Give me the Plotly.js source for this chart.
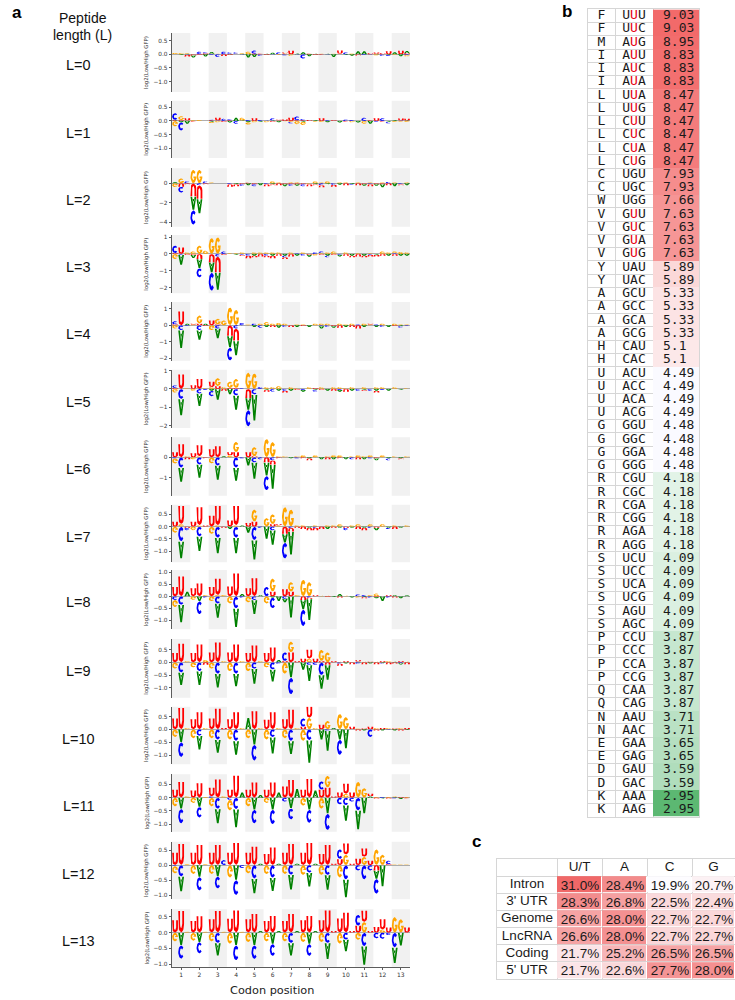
<!DOCTYPE html>
<html>
<head>
<meta charset="utf-8">
<script src="https://cdn.plot.ly/plotly-3.0.1.min.js"></script>
<style>html,body{margin:0;padding:0;background:#fff;}#chart{width:735px;height:1000px;}</style>
</head>
<body>
<div id="chart"></div>
<script>
// ================= DATA =================
const peptideLengths = [0,1,2,3,4,5,6,7,8,9,10,11,12,13];
const codonPositions = [1,2,3,4,5,6,7,8,9,10,11,12,13];
const nucleotides = ['A','C','G','U'];

// log2(Low/High GFP) letter heights, 39 nucleotide positions (13 codons x 3)
const L0_A = [0,-.03,.02,-.08,0,-.08,.07,0,0,.02,0,.02,-.12,-.1,0,.02,.06,0,0,0,.03,.08,-.07,.02,0,.02,-.1,0,-.03,-.05,.11,.11,0,.02,0,-.03,.08,-.07,.08];
const L0_C = [0,0,-.02,0,.1,.04,-.03,-.1,.1,.05,.05,-.02,0,.12,-.06,0,-.02,.07,-.04,0,-.02,-.16,0,0,0,-.02,0,0,.07,0,0,-.03,-.02,0,-.06,-.04,0,0,-.03];
const L0_G = [.05,.04,.03,0,0,0,.02,.02,0,0,.02,.03,.1,0,0,0,0,-.03,.03,-.06,0,0,0,0,.02,0,.02,.02,0,.03,0,0,0,-.04,0,0,-.03,0,-.05];
const L0_U = [0,0,-.06,-.04,-.03,.03,0,0,-.06,-.03,0,0,0,.02,.02,-.03,0,0,.04,.13,0,0,.02,-.03,-.02,0,0,.12,0,0,-.04,0,.04,.05,.04,.11,0,.13,.04];

const L1_A = [.02,-.05,-.1,0,0,0,-.03,0,0,-.06,.12,.02,-.05,0,-.03,0,.02,-.05,0,0,0,-.03,0,.03,0,-.05,0,-.06,0,0,-.06,0,-.1,0,0,-.03,.03,0,.02];
const L1_C = [.25,-.3,0,0,0,0,.03,.02,.08,.04,-.1,0,.04,0,.04,.02,.08,0,0,-.05,.15,.05,0,0,0,.03,0,0,.05,.04,0,.12,0,-.03,.1,-.06,0,.02,0];
const L1_G = [-.2,.15,.02,.03,.04,.02,-.05,-.05,0,0,0,.1,-.08,-.05,0,-.05,0,.02,-.02,-.04,-.12,-.12,0,-.03,-.04,0,0,.02,0,-.05,.02,-.1,0,0,0,0,-.04,-.03,-.04];
const L1_U = [.02,.03,.08,-.02,0,0,.02,.1,-.03,.02,0,0,0,.1,0,0,-.03,.03,.06,.12,.02,.02,.04,0,.1,0,.03,0,-.02,0,0,0,.02,.1,-.02,0,0,.07,.06];

const L2_A = [.15,0,0,-1.4,-1.5,0,0,0,0,0,-.1,0,-.2,0,-.2,0,-.1,0,-.2,0,-.15,0,0,-.1,0,-.1,0,-.15,0,-.1,0,-.15,0,-.15,-.3,0,-.3,0,-.2];
const L2_C = [0,-.6,.2,-1.5,-.2,.2,0,0,0,-.1,0,-.15,0,-.2,0,-.1,0,0,0,-.15,0,-.2,0,0,-.2,0,-.15,0,0,-.1,0,0,-.1,0,0,.15,0,-.1,0];
const L2_G = [-.4,.5,0,1.4,1.4,0,.1,.05,0,.05,0,0,0,0,.05,0,.2,.1,0,.1,.1,0,-.1,.2,.1,.2,0,.1,.1,0,.1,0,.1,0,.1,0,.1,0,.1];
const L2_U = [0,-.35,-.1,-1.35,-1.4,-.1,0,0,0,-.25,-.2,-.1,.05,-.1,0,-.2,-.1,-.2,-.1,-.1,-.1,-.1,-.2,-.1,-.2,0,-.2,0,-.2,0,-.2,-.1,-.2,-.1,-.1,-.2,0,-.1,0];

const L3_A = [0,-.6,0,-.2,-.55,0,-.6,-1.05,0,0,-.05,0,0,-.1,0,0,-.1,0,-.1,0,-.1,0,-.12,0,0,-.1,0,-.1,0,-.1,0,-.1,0,-.05,0,-.1,0,-.1,-.1];
const L3_C = [.45,-.05,0,0,-.55,0,-1.1,-.15,.15,0,0,-.05,-.1,0,0,-.1,0,0,-.1,0,.05,-.1,0,.1,.1,-.1,0,-.05,0,0,0,0,-.05,0,0,0,.05,0,0];
const L3_G = [-.3,0,.1,.15,.5,.2,.95,1.0,0,.05,.05,.1,0,.1,.1,.1,.1,.1,0,.1,0,.1,0,-.1,.05,.1,.15,0,.1,0,.05,0,.05,0,.15,.1,.1,.12,.1];
const L3_U = [.05,.4,-.05,-.05,-.3,0,-.5,-.95,-.05,0,0,-.05,-.15,-.1,-.15,-.1,-.15,-.1,-.1,-.15,0,0,-.05,0,-.05,0,-.05,0,-.1,-.1,-.15,-.1,-.1,-.1,-.1,0,-.1,0,0];

const L4_A = [0,-1.1,.1,0,-.6,.1,0,-.6,0,-.7,-.9,0,0,-.1,0,-.1,0,-.15,0,0,-.1,0,-.1,0,-.15,0,-.1,0,-.1,0,0,-.1,0,-.1,0,-.1,0,-.05,0];
const L4_C = [.2,-.3,-.05,0,-.3,0,0,-.2,0,-.8,-.2,.15,0,.1,-.15,0,0,0,-.1,0,0,0,0,0,-.05,-.1,0,0,0,0,.05,0,0,.05,-.1,0,0,-.1,-.05];
const L4_G = [-.2,0,0,.05,.5,0,-.3,.35,.3,1.1,.95,0,.05,0,.1,.2,.1,.15,.1,0,.05,.05,0,.1,.1,.1,0,.1,.05,.1,0,.1,.05,0,.1,0,.1,.05,.05];
const L4_U = [.05,.85,0,.05,.1,-.05,.3,.05,0,-.65,-.75,0,0,0,0,0,-.1,0,0,-.1,0,-.05,0,0,0,0,-.05,-.15,0,-.1,-.2,0,.05,0,0,0,-.05,0,0];

const L5_A = [0,-.9,0,0,-.7,0,-.1,-.6,0,-.3,-.8,0,-.65,-1.45,0,-.05,0,-.1,0,-.1,0,-.1,0,-.05,0,-.1,0,-.1,0,-.1,0,-.05,0,-.1,0,-.1,0,-.05,0];
const L5_C = [.15,-.55,0,0,-.25,-.05,-.3,0,0,0,-.35,.05,-.9,-.3,.1,0,-.15,0,-.1,0,0,-.05,0,-.1,0,0,0,-.05,0,0,-.1,0,-.1,0,-.05,0,0,0,0];
const L5_G = [-.2,0,.05,-.1,0,.05,.1,.45,.1,.35,.5,0,.9,.85,0,.1,.1,.15,0,.1,.05,0,.1,0,.1,0,.1,.1,.05,.1,0,.1,0,.1,.1,0,.1,0,.05];
const L5_U = [.05,.8,0,.2,.55,0,.3,.15,-.1,.05,.05,0,-.5,0,0,-.1,0,0,-.1,0,-.05,0,0,.05,-.05,0,-.1,0,-.15,0,0,-.05,0,-.1,0,0,0,0,0];

const L6_A = [0,-.7,0,0,-.65,0,0,-.7,.05,0,-.65,0,-.4,-.8,0,-.65,-1.2,0,0,-.05,0,0,-.05,0,-.1,0,-.1,0,-.1,0,0,-.1,0,-.1,0,-.05,0,-.05,0];
const L6_C = [-.05,-.5,0,0,-.35,0,0,-.4,0,0,-.5,-.05,0,-.25,-.1,-.7,-.15,0,0,0,-.05,0,0,0,0,0,0,0,0,-.1,0,0,-.05,0,0,-.1,0,0,0];
const L6_G = [-.25,0,.05,-.1,.05,0,-.3,0,0,.1,.5,0,0,.45,0,.9,.75,.05,.05,0,.05,.1,0,.1,0,.05,.1,.1,0,.05,.1,.05,.1,0,.1,0,.05,0,.05];
const L6_U = [.25,.65,-.1,.2,.55,-.05,.4,.55,0,.15,.25,0,.25,.05,0,-.25,-.2,-.05,0,0,0,-.05,-.1,0,0,-.1,0,-.05,0,0,-.1,0,0,-.05,0,0,0,-.05,0];

const L7_A = [0,-.7,0,0,-.6,0,0,-.65,0,-.1,-.65,.05,-.25,-.8,0,-.5,-.6,0,-.35,-.95,0,0,-.05,0,0,-.1,0,-.05,0,-.05,0,-.05,0,-.1,0,-.05,0,-.05,0];
const L7_C = [0,-.6,-.1,0,-.4,0,0,-.45,0,0,-.45,0,0,-.55,-.05,0,-.15,0,-.65,-.05,0,0,0,-.05,0,0,0,0,-.1,0,0,0,-.05,0,0,-.05,0,0,0];
const L7_G = [-.25,.1,0,-.15,.05,0,-.3,.05,0,0,.05,0,0,.5,0,.35,.4,.05,.8,.7,.05,.05,0,.05,0,.05,.05,.1,0,.05,.1,0,.1,0,.1,0,.05,0,.05];
const L7_U = [.2,.75,-.05,.2,.75,.05,.45,.8,-.05,.25,.8,0,.15,.2,0,0,.1,.05,-.3,-.15,-.05,-.1,-.1,-.1,-.1,0,-.05,0,-.05,0,-.1,-.1,0,-.05,0,0,-.1,0,0];

const L8_A = [0,-.75,.2,0,-.2,0,0,-.6,0,0,-.8,.1,0,-.6,.05,0,-.05,-.2,-.15,-.9,0,-.4,-.9,0,0,0,-.03,.1,0,-.05,0,-.03,0,-.05,-.2,0,.05,-.08,.05];
const L8_C = [-.15,-.35,0,0,-.55,-.05,0,-.3,0,0,-.5,-.05,0,-.15,0,.4,-.45,0,-.1,0,0,-.7,-.05,0,0,0,0,0,0,0,.08,.05,-.05,0,0,-.05,0,0,0];
const L8_G = [-.3,0,0,-.15,0,.05,-.2,.05,.05,-.3,0,0,-.25,0,0,-.3,.55,0,0,.4,.05,.7,.6,0,.03,.03,0,0,.03,0,-.05,0,.05,.12,0,0,0,0,0];
const L8_U = [.4,.85,0,.35,.55,0,.4,.7,0,.42,.97,0,.35,.77,0,0,.2,0,.3,.2,0,-.15,-.05,.05,0,-.03,0,-.05,0,0,0,-.05,0,-.03,0,.05,-.05,0,0];

const L9_A = [0,-.5,0,0,-.55,0,0,-.55,0,0,-.5,0,0,-.6,0,0,-.48,.1,0,-.6,0,-.3,-.65,0,-.55,-.6,0,0,-.05,0,.03,0,-.05,0,-.03,0,.03,-.05,0];
const L9_C = [0,-.4,0,0,-.35,0,0,-.45,0,0,-.45,0,0,-.25,0,0,-.28,-.05,.35,-.66,0,0,-.1,-.1,-.5,0,0,-.05,0,0,-.05,0,0,0,-.03,0,0,-.03,0];
const L9_G = [-.25,0,.05,-.2,0,.1,-.25,0,.05,-.35,0,.05,-.35,0,.05,-.2,0,0,-.45,.42,0,0,.15,0,.45,.4,0,.03,0,0,0,.03,0,.03,0,.05,0,0,.03];
const L9_U = [.38,.75,0,.38,.72,-.1,.4,.8,0,.4,.72,0,.38,.68,0,.38,.6,0,.05,.4,.05,.15,.35,.15,.05,-.1,.05,-.08,.05,-.08,.05,-.08,.03,-.08,.05,-.08,-.05,.05,-.08];

const L10_A = [0,-.5,0,0,-.55,0,0,-.52,0,0,-.55,0,.45,-.6,0,0,-.65,0,0,-.52,0,0,-.9,0,-.4,-.8,.05,-.4,-.75,0,0,-.05,0,0,-.05,0,-.05,0,-.03];
const L10_C = [0,-.58,0,0,-.25,0,0,-.4,0,0,-.45,0,0,-.62,0,0,-.3,0,0,-.45,0,.33,-.42,0,0,-.05,0,-.6,0,0,0,0,-.3,0,0,-.03,0,0,0];
const L10_G = [-.3,0,.05,-.35,0,.05,-.35,0,0,-.4,0,.05,-.35,0,.05,-.4,0,.05,-.35,0,.05,-.45,.45,.05,0,.33,0,.6,.48,0,.03,0,0,.05,0,.05,0,.05,0];
const L10_U = [.43,.85,0,.4,.68,0,.43,.82,.05,.4,.68,0,0,.72,0,.38,.68,0,.4,.78,0,.1,.45,0,.18,0,0,0,0,.1,-.05,.03,.1,-.05,.05,0,.03,-.05,.05];

const L11_A = [0,-.42,0,0,-.35,0,0,-.55,0,0,-.7,.2,0,-.45,.1,0,-.45,.2,0,-.4,.33,0,-.45,.28,0,-.6,0,0,-.6,0,-.72,-.6,.05,0,-.03,0,.02,-.05,0];
const L11_C = [0,-.55,0,0,-.4,0,.05,-.42,0,-.08,-.43,0,0,-.52,0,0,-.55,0,-.15,-.42,0,0,-.5,0,.32,-.62,0,-.25,-.28,-.15,-.48,0,0,0,.03,0,-.03,0,0];
const L11_G = [-.33,0,.05,-.2,0,.03,-.33,0,.05,-.4,0,0,-.33,0,0,-.2,0,0,0,0,0,-.3,0,0,-.42,.45,0,0,.15,0,.6,.36,0,.03,0,.03,.03,0,.03];
const L11_U = [.3,.6,0,.28,.55,0,.33,.7,0,.3,.84,0,.3,.58,0,.3,.58,0,.43,.68,0,.3,.72,0,.3,.38,.05,.2,.38,.2,0,0,.1,-.03,0,-.03,0,.03,-.02];

const L12_A = [0,-.5,0,0,-.4,0,0,-.38,0,0,-.5,0,0,-.5,.05,0,-.45,.05,0,-.5,.05,0,-.47,.05,0,-.5,0,0,-.6,0,0,0,0,-.28,-.72,0,0,0,0];
const L12_C = [-.03,-.38,0,0,-.45,0,0,-.4,.17,0,-.5,-.1,0,-.45,0,0,-.42,0,0,-.32,0,0,-.25,0,0,-.33,0,.33,-.48,0,-.18,-.48,-.18,-.5,0,.12,0,0,0];
const L12_G = [-.25,0,.03,-.3,0,.03,-.3,0,0,-.42,0,0,-.28,0,0,-.3,0,0,-.3,0,0,-.33,0,0,-.33,0,0,-.42,.35,0,0,.28,0,.53,.35,0,.02,.02,.02];
const L12_U = [.42,.72,0,.42,.68,0,.42,.68,0,.42,.75,0,.42,.62,0,.38,.6,0,.42,.72,0,.42,.75,0,.38,.68,.05,.2,.38,.05,.22,.28,.15,-.18,0,.03,0,0,0];

const L13_A = [0,-.4,0,0,-.3,0,0,-.4,0,0,-.4,0,0,-.4,.05,0,-.36,.05,0,-.4,.05,0,-.36,.05,0,-.52,0,0,-.38,0,0,-.6,0,0,0,0,-.5,-.42,0];
const L13_C = [0,-.43,0,0,-.36,0,0,-.33,0,0,-.48,0,0,-.44,0,0,-.38,0,0,-.33,0,0,-.38,0,0,-.33,0,0,-.22,0,.35,-.43,0,-.18,-.2,-.08,-.47,0,0];
const L13_G = [-.28,0,.03,-.26,0,.03,-.28,0,.03,-.35,0,.03,-.3,0,0,-.28,0,0,-.28,0,0,-.3,0,0,-.3,0,0,-.35,0,0,-.23,.34,0,0,.1,0,.5,.43,0];
const L13_U = [.4,.7,0,.38,.53,0,.43,.7,0,.45,.72,0,.43,.6,0,.38,.54,0,.38,.6,0,.4,.54,0,.4,.72,.05,.46,.64,.05,.22,.36,.05,.18,.33,.17,0,0,.17];

// Panel b: codon table
const aminoAcids = ['F','F','M','I','I','I','L','L','L','L','L','L','C','C','W','V','V','V','V','Y','Y','A','A','A','A','H','H','U','U','U','U','G','G','G','G','R','R','R','R','R','R','S','S','S','S','S','S','P','P','P','P','Q','Q','N','N','E','E','D','D','K','K'];
const codons = ['UUU','UUC','AUG','AUU','AUC','AUA','UUA','UUG','CUU','CUC','CUA','CUG','UGU','UGC','UGG','GUU','GUC','GUA','GUG','UAU','UAC','GCU','GCC','GCA','GCG','CAU','CAC','ACU','ACC','ACA','ACG','GGU','GGC','GGA','GGG','CGU','CGC','CGA','CGG','AGA','AGG','UCU','UCC','UCA','UCG','AGU','AGC','CCU','CCC','CCA','CCG','CAA','CAG','AAU','AAC','GAA','GAG','GAU','GAC','AAA','AAG'];
const codonScores = [9.03,9.03,8.95,8.83,8.83,8.83,8.47,8.47,8.47,8.47,8.47,8.47,7.93,7.93,7.66,7.63,7.63,7.63,7.63,5.89,5.89,5.33,5.33,5.33,5.33,5.1,5.1,4.49,4.49,4.49,4.49,4.48,4.48,4.48,4.48,4.18,4.18,4.18,4.18,4.18,4.18,4.09,4.09,4.09,4.09,4.09,4.09,3.87,3.87,3.87,3.87,3.87,3.87,3.71,3.71,3.65,3.65,3.59,3.59,2.95,2.95];

// Panel c: nucleotide composition
const nucColumns = ['U/T','A','C','G'];
const regions = ['Intron',"3' UTR",'Genome','LncRNA','Coding',"5' UTR"];
const pctU = [31.0,28.3,26.6,26.6,21.7,21.7];
const pctA = [28.4,26.8,28.0,28.0,25.2,22.6];
const pctC = [19.9,22.5,22.7,22.7,26.5,27.7];
const pctG = [20.7,22.4,22.7,22.7,26.5,28.0];

// ================= BUILD =================
const logoData = [
  {A:L0_A,C:L0_C,G:L0_G,U:L0_U},{A:L1_A,C:L1_C,G:L1_G,U:L1_U},{A:L2_A,C:L2_C,G:L2_G,U:L2_U},
  {A:L3_A,C:L3_C,G:L3_G,U:L3_U},{A:L4_A,C:L4_C,G:L4_G,U:L4_U},{A:L5_A,C:L5_C,G:L5_G,U:L5_U},
  {A:L6_A,C:L6_C,G:L6_G,U:L6_U},{A:L7_A,C:L7_C,G:L7_G,U:L7_U},{A:L8_A,C:L8_C,G:L8_G,U:L8_U},
  {A:L9_A,C:L9_C,G:L9_G,U:L9_U},{A:L10_A,C:L10_C,G:L10_G,U:L10_U},{A:L11_A,C:L11_C,G:L11_G,U:L11_U},
  {A:L12_A,C:L12_C,G:L12_G,U:L12_U},{A:L13_A,C:L13_C,G:L13_G,U:L13_U}
];

// layout geometry (pixels)
const FW = 735, FH = 1000;
const px = v => v / FW, py = v => 1 - v / FH;
const panelBox = [[33,92],[100.7,158],[168.3,226.7],[235,293.3],[302,360.7],[369.7,428],[437.3,495.7],[504.7,562.3],[570,629.3],[639,697.7],[706.7,764.3],[774.3,831.7],[841.7,899.3],[909.3,966.7]];
const panelRange = [[-1.38,.78],[-1.35,.74],[-4.45,1.54],[-2.34,1.13],[-2.16,1.42],[-2.13,1.05],[-1.86,.97],[-1.45,.89],[-1.375,1.1],[-1.39,.92],[-1.36,.88],[-1.28,.88],[-1.14,.78],[-1.08,.74]];
const halfTicks = [.5,0,-.5,-1];
const panelTicks = [halfTicks,halfTicks,[0,-2,-4],[1,0,-1,-2],[1,0,-1,-2],[1,0,-1,-2],[0,-1],halfTicks,[1,.5,0,-.5,-1],halfTicks,halfTicks,halfTicks,halfTicks,halfTicks];
const panelFmt = ['.1f','.1f','d','d','d','d','d','.1f','.1f','.1f','.1f','.1f','.1f','.1f'];
const LOGO_X0 = 172, LOGO_X1 = 410;
const COLORS = {A:'#008000', C:'#0000ff', G:'#ffa500', U:'#ff0000'};
const LETTER_W = 0.95/3;

const DEG = Math.PI/180;
function arc(cx,cy,rx,ry,a0,a1,n){const p=[];for(let i=0;i<=n;i++){const a=(a0+(a1-a0)*i/n)*DEG;p.push([cx+rx*Math.cos(a),cy+ry*Math.sin(a)]);}return p;}
const GLYPH = {
  U: [[[0,1],...arc(.5,.36,.5,.36,180,360,14),[1,1],[.69,1],...arc(.5,.4,.19,.2,360,180,10),[.31,1]]],
  C: [[...arc(.5,.5,.5,.5,42,318,22),...arc(.5,.5,.21,.27,318,42,16)]],
  G: [[...arc(.5,.5,.5,.5,42,360,22),[.52,.5],[.52,.37],...arc(.5,.5,.21,.27,331,42,16)]],
  A: [[[0,0],[.35,1],[.65,1],[1,0],[.7,0],[.5,.64],[.3,0]],[[.3,.18],[.7,.18],[.65,.34],[.35,.34]]]
};

const data = [];
const shapes = [];
const annotations = [];
const layout = {
  width: FW, height: FH, margin:{l:0,r:0,t:0,b:0},
  paper_bgcolor:'#ffffff', plot_bgcolor:'rgba(0,0,0,0)', showlegend:false,
  font:{family:'Liberation Sans, Arial, sans-serif', color:'#222'},
  shapes, annotations
};

logoData.forEach((P, i) => {
  const n = i + 1;
  const xa = n === 1 ? 'x' : 'x' + n, ya = n === 1 ? 'y' : 'y' + n;
  const xs = {A:[],C:[],G:[],U:[]}, ys = {A:[],C:[],G:[],U:[]};
  const add = (nu, xc, base, h) => {
    GLYPH[nu].forEach(poly => {
      poly.forEach(([gx,gy]) => { xs[nu].push(xc + (gx - 0.5) * LETTER_W); ys[nu].push(base + (0.02 + 0.96 * gy) * h); });
      xs[nu].push(null); ys[nu].push(null);
    });
  };
  for (let k = 0; k < 39; k++) {
    const xc = Math.floor(k / 3) + 1 + ((k % 3) - 1) / 3;
    const items = nucleotides.map(nu => ({nu, v: P[nu][k]}));
    let b = 0;
    items.filter(d => d.v > 0).sort((a, c) => a.v - c.v).forEach(d => { add(d.nu, xc, b, d.v); b += d.v; });
    b = 0;
    items.filter(d => d.v < 0).sort((a, c) => c.v - a.v).forEach(d => { add(d.nu, xc, b, d.v); b += d.v; });
  }
  nucleotides.forEach(nu => data.push({
    type:'scatter', mode:'lines', x: xs[nu], y: ys[nu], xaxis: xa, yaxis: ya,
    fill:'toself', fillcolor: COLORS[nu], line:{width:0, color: COLORS[nu]},
    hoverinfo:'skip', showlegend:false
  }));
  const [top, bot] = panelBox[i];
  const last = i === logoData.length - 1;
  layout['xaxis' + (n === 1 ? '' : n)] = {
    domain:[px(LOGO_X0), px(LOGO_X1)], range:[0.5, 13.5], anchor: ya,
    showgrid:false, zeroline:false, showline:last, linecolor:'#333', linewidth:0.8,
    ticks: last ? 'outside' : '', ticklen:2.5, tickwidth:0.8, tickcolor:'#333',
    tickmode:'array', tickvals: codonPositions, showticklabels: last,
    tickfont:{family:'DejaVu Sans', size:6, color:'#333'}, fixedrange:true
  };
  layout['yaxis' + (n === 1 ? '' : n)] = {
    domain:[py(bot), py(top)], range: panelRange[i], anchor: xa,
    showgrid:false, zeroline:true, zerolinecolor:'#9a9a9a', zerolinewidth:0.8,
    showline:true, linecolor:'#333', linewidth:0.8,
    ticks:'outside', ticklen:2.5, tickwidth:0.8, tickcolor:'#333',
    tickmode:'array', tickvals: panelTicks[i], tickformat: panelFmt[i],
    tickfont:{family:'DejaVu Sans', size:5.8, color:'#333'}, fixedrange:true
  };
  codonPositions.filter(c => c % 2 === 1).forEach(c => shapes.push({
    type:'rect', xref: xa, yref: ya + ' domain', x0: c - 0.5, x1: c + 0.5, y0: 0, y1: 1,
    fillcolor:'#f1f1f1', line:{width:0}, layer:'below'
  }));
  annotations.push({
    xref:'paper', yref:'paper', x: px(146.5), y: py((top + bot) / 2), text:'log2(Low/High GFP)',
    textangle:-90, showarrow:false, xanchor:'center', yanchor:'middle',
    font:{family:'DejaVu Sans', size:5.4, color:'#333'}
  });
  annotations.push({
    xref:'paper', yref:'paper', x: px(78.5), y: py(top + 32), text:'L=' + peptideLengths[i],
    showarrow:false, xanchor:'center', yanchor:'middle',
    font:{family:'Liberation Sans, Arial, sans-serif', size:14.5, color:'#111'}
  });
});

// x-axis title
annotations.push({xref:'paper', yref:'paper', x:px(272), y:py(990.5), text:'Codon position', showarrow:false,
  xanchor:'center', yanchor:'middle', font:{family:'DejaVu Sans', size:11.3, color:'#222'}});
// left header
annotations.push({xref:'paper', yref:'paper', x:px(82.5), y:py(18), text:'Peptide', showarrow:false,
  xanchor:'center', yanchor:'middle', font:{family:'Liberation Sans, Arial, sans-serif', size:14, color:'#111'}});
annotations.push({xref:'paper', yref:'paper', x:px(82.5), y:py(35), text:'length (L)', showarrow:false,
  xanchor:'center', yanchor:'middle', font:{family:'Liberation Sans, Arial, sans-serif', size:14, color:'#111'}});
// panel letters
[['a',16.5,12.5],['b',567,11],['c',476.5,841]].forEach(([t,x,y]) => annotations.push({
  xref:'paper', yref:'paper', x:px(x), y:py(y), text:'<b>'+t+'</b>', showarrow:false,
  xanchor:'center', yanchor:'middle', font:{family:'Liberation Sans, Arial, sans-serif', size:17, color:'#000'}
}));

// ---------- Panel b table ----------
const B_X0 = 588, B_X1 = 699, B_Y0 = 9.4, B_Y1 = 816.5;
const bColEdges = [0, 27, 65, 111];
const nRows = codonScores.length;
const rowEdges = Array.from({length: nRows + 1}, (_, i) => i);
const rowMid = codonScores.map((_, i) => i + 0.5);
layout.xaxis15 = {domain:[px(B_X0), px(B_X1)], range:[0, 111], anchor:'y15', tickmode:'array', tickvals: bColEdges,
  showgrid:true, gridcolor:'#d6d6d6', gridwidth:1, showticklabels:false, ticks:'', zeroline:false,
  showline:true, mirror:true, linecolor:'#d6d6d6', linewidth:1, fixedrange:true};
layout.yaxis15 = {domain:[py(B_Y1), py(B_Y0)], range:[nRows, 0], anchor:'x15', tickmode:'array', tickvals: rowEdges,
  showgrid:true, gridcolor:'#d6d6d6', gridwidth:1, showticklabels:false, ticks:'', zeroline:false,
  showline:true, mirror:true, linecolor:'#d6d6d6', linewidth:1, fixedrange:true};
data.push({type:'heatmap', x:[65, 111], y: rowEdges, z: codonScores.map(v => [v]), xaxis:'x15', yaxis:'y15',
  zmin:2.95, zmax:9.03, showscale:false, hoverinfo:'skip',
  colorscale:[[0,'rgb(92,184,114)'],[0.105,'rgb(176,221,188)'],[0.151,'rgb(198,231,207)'],[0.1875,'rgb(219,240,225)'],
    [0.202,'rgb(226,243,231)'],[0.2516,'rgb(250,250,255)'],[0.3536,'rgb(252,232,233)'],[0.4836,'rgb(251,216,216)'],
    [0.7697,'rgb(246,150,150)'],[1,'rgb(242,106,106)']]});
const monoFont = {family:'DejaVu Sans Mono, monospace', size:13, color:'#1a1a1a'};
data.push({type:'scatter', mode:'text', x: aminoAcids.map(() => 13.5), y: rowMid, text: aminoAcids,
  textposition:'middle center', textfont: monoFont, xaxis:'x15', yaxis:'y15', hoverinfo:'skip', cliponaxis:false});
data.push({type:'scatter', mode:'text', x: codons.map(() => 46), y: rowMid,
  text: codons.map(c => c[1] === 'U' ? c[0] + '<span style="color:#e60012">U</span>' + c[2] : c),
  textposition:'middle center', textfont: monoFont, xaxis:'x15', yaxis:'y15', hoverinfo:'skip', cliponaxis:false});
data.push({type:'scatter', mode:'text', x: codonScores.map(() => 75), y: rowMid, text: codonScores.map(v => String(v)),
  textposition:'middle right', textfont: monoFont, xaxis:'x15', yaxis:'y15', hoverinfo:'skip', cliponaxis:false});

// ---------- Panel c table ----------
const C_X0 = 497, C_X1 = 735, C_Y0 = 859, C_Y1 = 979;
const cColEdges = [0, 60, 105, 150, 195, 238];
const compZ = regions.map((_, i) => [pctU[i], pctA[i], pctC[i], pctG[i]]);
layout.xaxis16 = {domain:[px(C_X0), px(C_X1)], range:[0, 238], anchor:'y16', tickmode:'array', tickvals: cColEdges,
  showgrid:true, gridcolor:'#d6d6d6', gridwidth:1, showticklabels:false, ticks:'', zeroline:false,
  showline:true, mirror:true, linecolor:'#d6d6d6', linewidth:1, fixedrange:true};
layout.yaxis16 = {domain:[py(C_Y1), py(C_Y0)], range:[regions.length + 1, 0], anchor:'x16', tickmode:'array',
  tickvals: Array.from({length: regions.length + 2}, (_, i) => i),
  showgrid:true, gridcolor:'#d6d6d6', gridwidth:1, showticklabels:false, ticks:'', zeroline:false,
  showline:true, mirror:true, linecolor:'#d6d6d6', linewidth:1, fixedrange:true};
const sansFont = {family:'Liberation Sans, Arial, sans-serif', size:13.5, color:'#1a1a1a'};
data.push({type:'heatmap', x:[60, 105, 150, 195, 238], y: Array.from({length: regions.length + 1}, (_, i) => i + 1),
  z: compZ, xaxis:'x16', yaxis:'y16', zmin:19.9, zmax:31.0, showscale:false, hoverinfo:'skip', xgap:1, ygap:1,
  colorscale:[[0,'rgb(253,252,255)'],[1,'rgb(240,104,104)']],
  texttemplate:'%{z:.1f}%', textfont: sansFont});
data.push({type:'scatter', mode:'text', x:[82.5, 127.5, 172.5, 216.5], y: nucColumns.map(() => 0.5), text: nucColumns,
  textposition:'middle center', textfont: sansFont, xaxis:'x16', yaxis:'y16', hoverinfo:'skip', cliponaxis:false});
data.push({type:'scatter', mode:'text', x: regions.map(() => 30), y: regions.map((_, i) => i + 1.5), text: regions,
  textposition:'middle center', textfont: sansFont, xaxis:'x16', yaxis:'y16', hoverinfo:'skip', cliponaxis:false});

Plotly.newPlot('chart', data, layout, {staticPlot:true, displayModeBar:false});
</script>
</body>
</html>
